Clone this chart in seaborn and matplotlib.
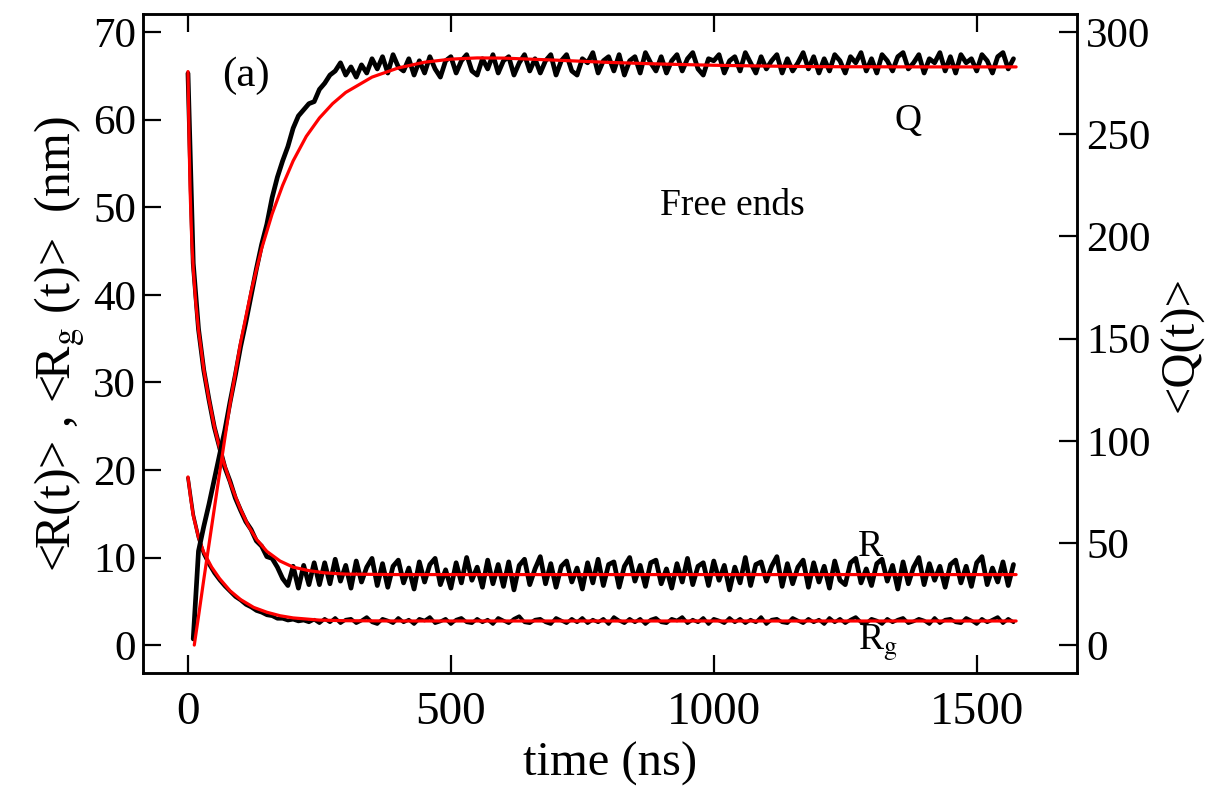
import numpy as np
import pandas as pd
import matplotlib
matplotlib.use("Agg")
import matplotlib.pyplot as plt
import seaborn as sns

# ---------------------------------------------------------------------------
# Simulation traces (black), sampled every 10 ns
# ---------------------------------------------------------------------------
time_md = np.arange(0, 1580, 10)
time_q = np.arange(10, 1580, 10)

r_md = [
    65.3, 43.6, 36.1, 31.4, 28.0, 24.9, 22.6, 20.3, 18.7, 16.8,
    15.4, 14.1, 13.2, 11.9, 11.3, 10.1, 9.9, 8.9, 7.6, 6.8,
    9.0, 6.5, 9.1, 6.9, 9.4,
    6.9, 9.4, 7.0, 9.8, 7.3, 9.1, 6.5, 9.6, 7.2, 8.9,
    9.9, 6.8, 9.3, 6.6, 9.0, 9.7, 7.1, 8.8, 6.4, 9.5,
    7.2, 9.2, 9.9, 6.9, 8.6, 6.5, 9.4, 7.1, 10.0, 7.4,
    8.9, 6.6, 9.7, 7.0, 9.2, 6.7, 9.5, 6.3, 9.1, 9.8,
    6.9, 8.7, 10.1, 7.0, 9.3, 6.6, 9.0, 9.6, 7.2, 8.8,
    6.4, 9.4, 7.1, 9.8, 6.8, 9.2, 9.5, 6.6, 9.0, 10.0,
    7.3, 9.1, 6.7, 9.4, 9.7, 7.0, 8.7, 6.5, 9.3, 7.2,
    9.9, 6.9, 9.0, 9.4, 6.8, 9.6, 7.4, 9.1, 6.3, 8.9,
    7.1, 10.0, 6.8, 9.2, 9.5, 7.3, 9.0, 10.1, 6.7, 9.3,
    7.0, 8.9, 9.7, 6.6, 9.4, 7.2, 9.0, 6.5, 9.6, 7.4,
    6.9, 9.4, 9.9, 7.1, 8.7, 6.8, 9.3, 9.8, 7.3, 9.1,
    6.4, 9.5, 7.0, 8.9, 10.0, 6.9, 9.3, 7.4, 9.0, 6.6,
    9.2, 9.7, 7.1, 9.0, 6.7, 9.4, 10.1, 6.9, 8.8, 7.2,
    9.5, 6.8, 9.2,
]

rg_md = [
    19.1, 14.9, 12.3, 10.4, 9.2, 8.2, 7.4, 6.7, 6.1, 5.5,
    5.1, 4.6, 4.3, 3.9, 3.7, 3.4, 3.3, 3.0, 3.0, 2.8,
    2.9, 2.7, 2.8, 2.6, 2.9,
    2.5, 3.0, 2.6, 3.1, 2.5, 2.9, 3.0, 2.5, 2.8, 3.2,
    2.6, 2.4, 3.0, 2.8, 2.5, 3.1, 2.6, 2.9, 2.4, 3.0,
    2.8, 3.2, 2.5, 2.7, 3.0, 2.4, 2.9, 3.1, 2.6, 2.5,
    3.0, 2.6, 2.9, 2.4, 3.1, 2.8, 2.5, 3.0, 3.3, 2.6,
    2.5, 2.9, 3.0, 2.6, 2.4, 3.1, 2.8, 2.5, 3.0, 2.6,
    3.1, 2.5, 2.9, 2.6, 3.0, 2.4, 3.2, 2.8, 2.5, 3.0,
    2.6, 3.0, 2.4, 2.9, 3.1, 2.6, 2.5, 3.0, 2.8, 3.2,
    2.5, 2.9, 2.6, 3.1, 2.4, 3.0, 2.8, 2.5, 3.1, 2.6,
    3.0, 2.5, 2.9, 2.6, 3.2, 2.4, 2.9, 3.0, 2.6, 2.5,
    3.1, 2.8, 2.5, 3.0, 2.6, 2.9, 2.4, 3.1, 2.6, 3.0,
    2.5, 2.9, 3.2, 2.6, 2.5, 3.0, 2.8, 2.4, 3.0, 2.6,
    2.9, 3.1, 2.5, 2.7, 3.0, 2.8, 2.4, 3.1, 2.5, 2.9,
    3.0, 2.6, 2.5, 3.1, 2.8, 2.4, 3.0, 2.6, 2.9, 3.2,
    2.5, 3.0, 2.6,
]

q_md = [
    3, 46, 58, 69, 81, 93, 105, 119, 132, 146,
    158, 171, 184, 196, 206, 219, 229, 237, 244, 253,
    259, 262, 265, 266, 272, 275, 279, 281, 285, 279,
    283, 278, 284, 280, 287, 282, 288, 280, 289, 283,
    281, 287, 279, 286, 280, 288, 282, 278, 286, 288,
    280, 286, 289, 281, 279, 287, 282, 289, 280, 286,
    288, 279, 285, 289, 281, 287, 280, 286, 289, 279,
    286, 289, 281, 279, 287, 285, 290, 280, 286, 288,
    281, 289, 279, 286, 288, 280, 290, 285, 281, 288,
    280, 286, 289, 281, 287, 290, 282, 279, 287, 286,
    289, 280, 286, 288, 281, 290, 285, 280, 288, 282,
    286, 289, 280, 287, 281, 285, 290, 282, 288, 280,
    287, 281, 289, 286, 280, 288, 285, 290, 281, 287,
    280, 289, 286, 281, 288, 290, 282, 285, 289, 280,
    287, 285, 290, 281, 288, 280, 289, 285, 287, 281,
    289, 286, 280, 288, 290, 282, 287,
]

# ---------------------------------------------------------------------------
# Fitted curves (red)
# ---------------------------------------------------------------------------
t_fit_r = [0, 2, 4, 7, 10, 15, 20, 30, 40, 50, 60, 70, 80, 90, 100, 115,
           130, 150, 175, 200, 230, 260, 300, 400, 600, 1000, 1575]
r_fit = [65.5, 58.0, 52.0, 46.5, 43.0, 39.0, 36.0, 31.5, 28.0, 25.0, 22.5,
         20.5, 18.6, 17.0, 15.5, 13.6, 12.1, 10.7, 9.6, 8.9, 8.5, 8.25, 8.1,
         8.05, 8.05, 8.05, 8.05]

t_fit_rg = [0, 5, 10, 20, 30, 45, 60, 80, 100, 125, 150, 175, 200, 250,
            300, 400, 1000, 1575]
rg_fit = [19.2, 16.8, 14.8, 12.3, 10.6, 8.9, 7.6, 6.2, 5.2, 4.3, 3.75, 3.35,
          3.1, 2.85, 2.78, 2.75, 2.75, 2.75]

t_fit_q = [12, 20, 30, 45, 60, 80, 100, 120, 140, 160, 180, 200, 225, 250,
           275, 300, 350, 400, 450, 500, 550, 600, 700, 800, 900, 1000, 1100,
           1200, 1400, 1575]
q_fit = [0, 14, 32, 58, 84, 118, 148, 173, 194, 211, 225, 237, 249, 258, 265,
         270.5, 278, 282.5, 285.3, 286.8, 287.4, 287.3, 286.3, 285.2, 284.4,
         283.8, 283.4, 283.1, 283.0, 283.0]

assert len(r_md) == len(time_md) and len(rg_md) == len(time_md)
assert len(q_md) == len(time_q)

md_df = pd.DataFrame({"time": time_md, "R": r_md, "Rg": rg_md})
q_df = pd.DataFrame({"time": time_q, "Q": q_md})

# ---------------------------------------------------------------------------
# Plot
# ---------------------------------------------------------------------------
sns.set_theme(style="ticks")
plt.rcParams["font.family"] = ["Liberation Serif", "DejaVu Serif"]
plt.rcParams["mathtext.fontset"] = "stix"
plt.rcParams["text.color"] = "black"
plt.rcParams["axes.labelcolor"] = "black"
plt.rcParams["xtick.color"] = "black"
plt.rcParams["ytick.color"] = "black"

fig, ax = plt.subplots(figsize=(12.22, 7.90), dpi=100)
fig.subplots_adjust(left=0.117, right=0.881, bottom=0.148, top=0.982)
ax2 = ax.twinx()

sns.lineplot(data=md_df, x="time", y="R", ax=ax, color="black", lw=3.4,
             estimator=None, sort=False)
sns.lineplot(data=md_df, x="time", y="Rg", ax=ax, color="black", lw=2.6,
             estimator=None, sort=False)
sns.lineplot(x=t_fit_r, y=r_fit, ax=ax, color="red", lw=2.3, estimator=None, sort=False)
sns.lineplot(x=t_fit_rg, y=rg_fit, ax=ax, color="red", lw=2.3, estimator=None, sort=False)

sns.lineplot(data=q_df, x="time", y="Q", ax=ax2, color="black", lw=3.4,
             estimator=None, sort=False)
sns.lineplot(x=t_fit_q, y=q_fit, ax=ax2, color="red", lw=2.3, estimator=None, sort=False)

ax.set_xlim(-85.6, 1690)
ax.set_ylim(-3.2, 72.05)
ax2.set_ylim(-3.2 * 30 / 7, 72.05 * 30 / 7)

ax.set_xticks([0, 500, 1000, 1500])
ax.set_yticks(range(0, 71, 10))
ax2.set_yticks(range(0, 301, 50))

ax.tick_params(axis="x", direction="in", length=13, width=1.6, labelsize=34,
               top=True, pad=13)
ax.tick_params(axis="y", direction="in", length=13, width=1.6, labelsize=31,
               right=False, pad=5)
ax2.tick_params(axis="y", direction="in", length=13, width=1.6, labelsize=31, pad=7)

for a in (ax, ax2):
    for sp in a.spines.values():
        sp.set_linewidth(1.8)
        sp.set_color("black")

ax.set_xlabel("time (ns)", fontsize=35, labelpad=6)
ax.set_ylabel(r"<R(t)> , <R$_\mathrm{g}$ (t)>  (nm)", fontsize=36, labelpad=4)
ax2.set_ylabel("<Q(t)>", fontsize=35, labelpad=6)

ax.text(65, 63.9, "(a)", fontsize=31, ha="left", va="baseline")
ax.text(1344, 58.8, "Q", fontsize=27, ha="left", va="baseline")
ax.text(897, 49.1, "Free ends", fontsize=27, ha="left", va="baseline")
ax.text(1274, 10.2, "R", fontsize=27, ha="left", va="baseline")
ax.text(1274, -0.57, r"R$_\mathrm{g}$", fontsize=27, ha="left", va="baseline")

plt.savefig("out.png", dpi=100)
